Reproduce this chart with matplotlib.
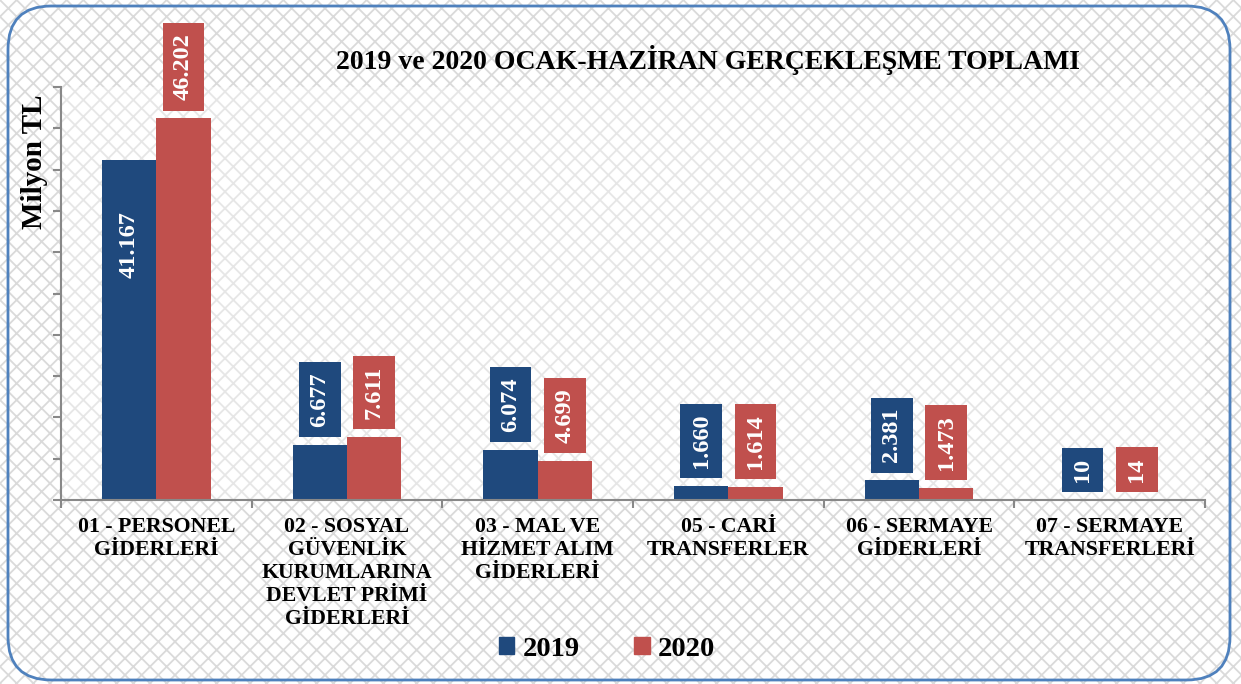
import numpy as np
import matplotlib
matplotlib.use('Agg')
import matplotlib.pyplot as plt
from matplotlib.patches import Rectangle, FancyBboxPatch, Patch

plt.rcParams['font.family'] = ['Liberation Serif', 'DejaVu Serif']
plt.rcParams['font.weight'] = 'bold'
plt.rcParams['hatch.color'] = '#dadada'
plt.rcParams['hatch.linewidth'] = 1.3

# data (Milyon TL)
categories = ['01 - PERSONEL\nGİDERLERİ',
              '02 - SOSYAL\nGÜVENLİK\nKURUMLARINA\nDEVLET PRİMİ\nGİDERLERİ',
              '03 - MAL VE\nHİZMET ALIM\nGİDERLERİ',
              '05 - CARİ\nTRANSFERLER',
              '06 - SERMAYE\nGİDERLERİ',
              '07 - SERMAYE\nTRANSFERLERİ']
y2019 = [41167, 6677, 6074, 1660, 2381, 10]
y2020 = [46202, 7611, 4699, 1614, 1473, 14]

blue = '#1f497d'
red = '#c0504d'

fig = plt.figure(figsize=(12.41, 6.84), dpi=100)
fig.patch.set_facecolor('white')

# hatched background
bg = Rectangle((0, 0), 1, 1, transform=fig.transFigure, facecolor='white',
               edgecolor='#dadada', hatch='xx', linewidth=0, zorder=-10)
fig.patches.append(bg)

# rounded border
border = FancyBboxPatch((8 / 1241, 4 / 684), 1222 / 1241, 674 / 684,
                        boxstyle='round,pad=0,rounding_size=0.035',
                        transform=fig.transFigure, facecolor='none',
                        edgecolor='#4f81bd', linewidth=2, zorder=10,
                        mutation_aspect=1241 / 684)
fig.patches.append(border)

ax = fig.add_axes([61 / 1241, 1 - 500 / 684, (1205 - 61) / 1241, (500 - 87) / 684])
ax.set_facecolor((1, 1, 1, 0.35))

x = np.arange(len(categories))
w = 0.285
b1 = ax.bar(x - w / 2, y2019, w, color=blue, label='2019')
b2 = ax.bar(x + w / 2, y2020, w, color=red, label='2020')

ax.set_xlim(-0.5, len(categories) - 0.5)
ax.set_ylim(0, 50000)
ax.set_yticks(np.arange(0, 50001, 5000))
ax.set_yticklabels([])
ax.tick_params(axis='y', direction='out', length=6, color='#888888', width=1.5)

ax.set_xticks(x)
ax.set_xticklabels(categories, fontsize=15.7, fontweight='bold', linespacing=1.2)
ax.set_xticks(np.arange(-0.5, len(categories), 1), minor=True)
ax.tick_params(axis='x', which='major', length=0, pad=12)
ax.tick_params(axis='x', which='minor', direction='out', length=6, color='#888888', width=1.5)

for s in ['top', 'right']:
    ax.spines[s].set_visible(False)
for s in ['left', 'bottom']:
    ax.spines[s].set_color('#888888')
    ax.spines[s].set_linewidth(1.5)

def fmt(v):
    return f'{v:,}'.replace(',', '.')

box = dict(boxstyle='square,pad=0.42', linewidth=0)
for xs, vals, col in [(x - w / 2, y2019, blue), (x + w / 2, y2020, red)]:
    for xi, v in zip(xs, vals):
        if v > 42000 or v < 40000:
            ax.annotate(fmt(v), (xi, v), xytext=(0, 18), textcoords='offset pixels',
                        rotation=90, ha='center', va='bottom', color='white',
                        fontsize=17.5, fontweight='bold',
                        bbox=dict(box, facecolor=col), annotation_clip=False)
        else:
            ax.text(xi, v * 0.75, fmt(v), rotation=90, ha='center', va='center',
                    color='white', fontsize=17.5, fontweight='bold')

fig.text(708 / 1241, 1 - 60 / 684, '2019 ve 2020 OCAK-HAZİRAN GERÇEKLEŞME TOPLAMI',
         ha='center', va='center', fontsize=20, fontweight='bold')
fig.text(35 / 1241, 1 - 162 / 684, 'Milyon TL', rotation=90, ha='center', va='center',
         fontsize=21, fontweight='bold')

handles = [Patch(color=blue), Patch(color=red)]
fig.legend(handles, ['2019', '2020'], loc='center', bbox_to_anchor=(607 / 1241, 1 - 649 / 684),
           ncol=2, frameon=False, prop={'weight': 'bold', 'size': 20.5},
           handlelength=0.55, handleheight=0.55, handletextpad=0.3, columnspacing=1.9)

fig.savefig('out.png', dpi=100)
